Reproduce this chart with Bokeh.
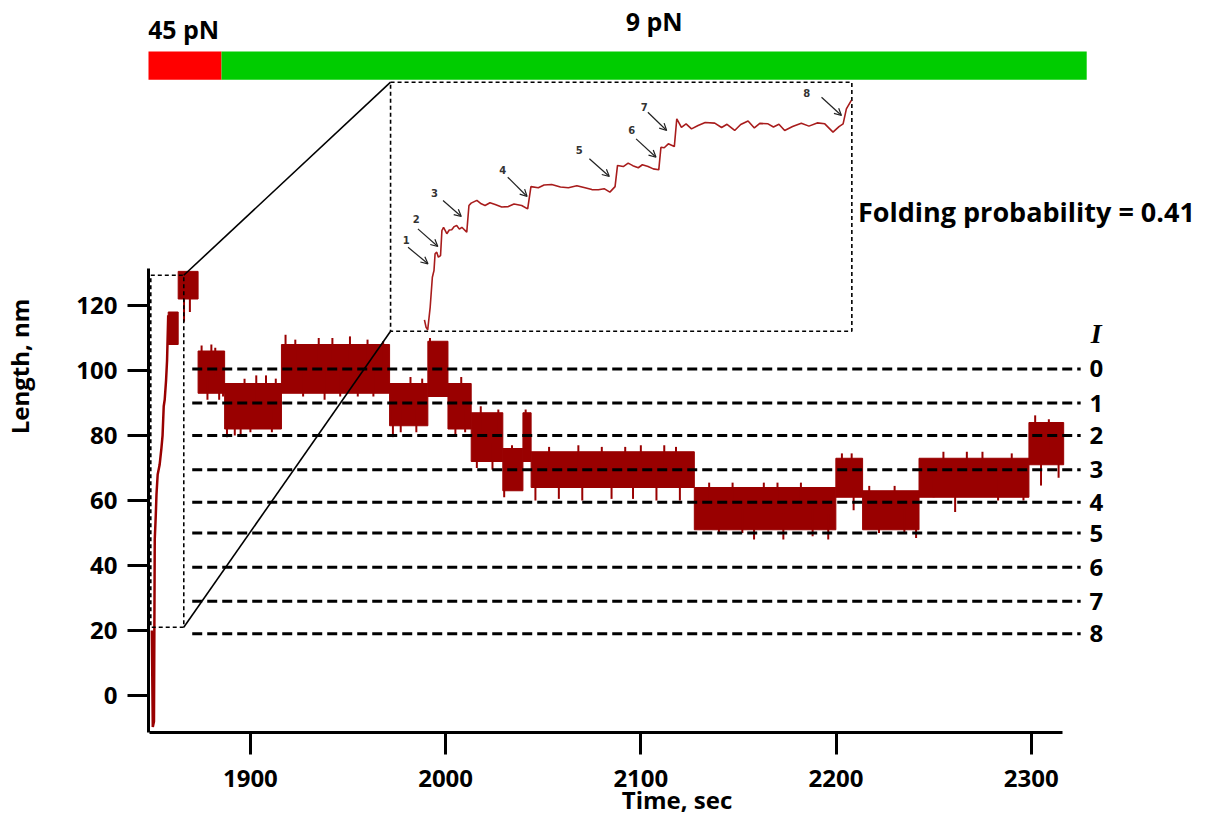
from bokeh.plotting import figure
from bokeh.models import Range1d, Label, Arrow, OpenHead, ColumnDataSource, FixedTicker
from bokeh.embed import file_html
from bokeh.resources import INLINE
from bokeh.core.properties import value

# ---------------- data ----------------
# initial thin rise of the extension trace (time s, length nm)
rise_t = [1849.5, 1850.0, 1850.6, 1851.0, 1851.5, 1851.9, 1852.5, 1853.5, 1854.4, 1855.0,
          1855.6, 1856.1, 1856.8, 1857.3, 1857.9]
rise_v = [20, -9.7, -8, 48, 55, 62, 68, 71, 76, 80, 89, 91, 97, 103, 117]

# noisy dwell segments of the trace: time span and min / max envelope (nm)
seg_start = [1857.9, 1863.0, 1873.2, 1886.8, 1915.9, 1971.3, 1990.9, 2001.2, 2013.1,
             2029.3, 2039.6, 2043.8, 2127.4, 2199.9, 2213.6, 2242.5, 2298.8]
seg_end = [1863.0, 1873.2, 1886.8, 1915.9, 1971.3, 1990.9, 2001.2, 2013.1, 2029.3,
           2039.6, 2043.8, 2127.4, 2199.9, 2213.6, 2242.5, 2298.8, 2316.6]
seg_low = [108, 122, 93, 82, 93, 83, 92, 82, 72, 63, 72, 64, 51, 61, 51, 61, 71]
seg_high = [118, 130.5, 106, 96, 108, 96, 109, 96, 87, 76, 87, 75, 64, 73, 63, 73, 84]

# noise excursions beyond the envelope (time, low, high)
spike_t = [1866, 1869, 1875, 1878, 1880, 1882, 1884, 1886, 1888, 1892, 1895, 1897, 1900, 1903,
           1908, 1911, 1913, 1918, 1923, 1927, 1935, 1938, 1942, 1946, 1951, 1955, 1960, 1963,
           1968, 1973, 1977, 1982, 1985, 1988, 1992, 2005, 2008, 2010, 2016, 2018, 2024, 2027,
           2030, 2034, 2041, 2046, 2053, 2058, 2068, 2070, 2080, 2085, 2092, 2096, 2100, 2108,
           2112, 2118, 2120, 2135, 2140, 2147, 2152, 2158, 2163, 2170, 2173, 2182, 2188, 2196,
           2203, 2208, 2209, 2217, 2222, 2230, 2235, 2241, 2250, 2255, 2261, 2267, 2275, 2283,
           2290, 2296, 2302, 2305, 2309, 2314]
spike_lo = [115, 118, 99, 91, 100, 98, 91, 92, 79.5, 80, 80.5, 90, 81, 90,
            90, 81, 90, 100, 100, 92, 100, 91, 100, 92, 100, 92, 100, 92,
            100, 79.5, 81, 90, 81, 90, 100, 80, 90, 81, 70, 80, 69.5, 80,
            61, 70, 80, 60, 68, 60.5, 70, 60, 68, 60.5, 68, 60.5, 70, 60,
            70, 68, 60, 58, 50, 58, 50, 48, 58, 58, 48, 58, 49, 48,
            68, 68, 57, 58, 50, 58, 50, 48.5, 61, 68, 56.5, 68, 68, 60,
            68, 60, 78, 64.6, 76, 67]
spike_hi = [125, 128, 107.7, 99, 108, 107, 100, 99, 88, 88, 88, 97.5, 90, 98.5,
            98.5, 88, 97.5, 111, 109.5, 100, 110, 100, 110, 100, 110.5, 100, 109.5, 100,
            109, 88, 88, 98, 88, 97.5, 110, 88, 98, 88, 78, 89, 78, 88,
            70, 77, 88, 68, 76.5, 68, 77, 68, 76.5, 68, 76.5, 68, 77, 68,
            77, 76.5, 68, 65.5, 58, 65.5, 58, 56, 65.5, 65.5, 56, 65.5, 58, 56,
            74.5, 74.5, 64, 64.5, 58, 64.5, 58, 56, 68, 75, 64, 75, 75, 68,
            74.5, 68, 86.2, 74, 85, 74]

# intermediate levels I
level_values = [100.5, 90, 80, 69.5, 59.5, 50, 39.5, 29, 19]
level_names = ["0", "1", "2", "3", "4", "5", "6", "7", "8"]
level_t0 = 1870.2
level_t1 = 2325.3

# force protocol
force_start = [1846.3, 1885.2]
force_end = [1885.2, 2328.4]
force_labels = ["45 pN", "9 pN"]
force_colors = ["#ff0000", "#00cc00"]

# zoomed region (small dashed box) and where it is magnified (inset box)
zoom_t = [1848.98, 1865.87]
zoom_v = [21.0, 129.3]
inset_box_t = [1971.80, 2208.09]
inset_box_v = [112.09, 188.71]

# inset trace (time s, length nm) inside the zoomed region
inset_t = [1850.22, 1850.28, 1850.34, 1850.43, 1850.51, 1850.57, 1850.61, 1850.67, 1850.73,
           1850.81, 1850.86, 1850.92, 1851.04, 1851.13, 1851.22, 1851.31, 1851.40, 1851.50,
           1851.59, 1851.77, 1851.85, 1851.93, 1852.14, 1852.30, 1852.44, 1852.62, 1852.81,
           1853.05, 1853.29, 1853.50, 1853.78, 1854.00, 1854.12, 1854.39, 1854.60, 1854.88,
           1855.20, 1855.49, 1855.80, 1856.10, 1856.35, 1856.59, 1856.80, 1857.01, 1857.20,
           1857.29, 1857.50, 1857.68, 1857.85, 1858.05, 1858.20, 1858.41, 1858.60, 1858.80,
           1858.88, 1859.00, 1859.15, 1859.37, 1859.46, 1859.63, 1859.80, 1860.00, 1860.24,
           1860.50, 1860.85, 1861.10, 1861.30, 1861.58, 1861.80, 1862.07, 1862.30, 1862.50,
           1862.80, 1863.00, 1863.20, 1863.41, 1863.70, 1864.02, 1864.30, 1864.60, 1864.88,
           1865.18, 1865.40, 1865.55, 1865.67, 1865.85]
inset_v = [25.96, 22.74, 21.6, 31.4, 44.5, 47.4, 54.7, 55.4, 53.2,
           53.9, 64.8, 66.2, 63.4, 65.0, 65.1, 66.5, 67.0, 65.4,
           66.2, 64.1, 75.7, 76.7, 77.9, 76.4, 75.7, 76.9, 76.1,
           75.0, 75.2, 76.3, 75.7, 74.2, 83.9, 83.4, 84.6, 84.8,
           83.7, 83.4, 84.3, 83.4, 82.6, 82.5, 83.0, 81.5, 83.9,
           93.1, 92.6, 94.1, 93.0, 92.1, 93.4, 92.6, 91.6, 91.2,
           101.0, 100.8, 102.5, 101.3, 113.4, 109.7, 111.2, 109.0, 110.5,
           111.8, 111.5, 109.6, 111.0, 108.3, 110.9, 112.4, 109.4, 111.4,
           111.2, 109.8, 111.0, 108.3, 110.0, 111.5, 110.2, 111.6, 111.2,
           107.6, 110.0, 111.2, 117.7, 121.4]

# step arrows in the inset (inset coordinates)
step_labels = ["1", "2", "3", "4", "5", "6", "7", "8"]
step_label_t = [1849.55, 1849.92, 1850.59, 1853.09, 1855.89, 1857.81, 1858.27, 1864.22]
step_label_v = [60.75, 69.88, 81.02, 91.19, 100.02, 108.59, 118.42, 124.51]
arrow_t0 = [1849.62, 1849.98, 1850.90, 1853.27, 1856.26, 1857.97, 1858.40, 1864.76]
arrow_v0 = [57.53, 65.53, 77.84, 87.97, 95.98, 104.67, 116.24, 122.77]
arrow_t1 = [1850.35, 1850.71, 1851.57, 1853.98, 1856.99, 1858.70, 1859.09, 1865.49]
arrow_v1 = [50.31, 57.84, 70.88, 79.58, 88.28, 96.67, 108.28, 114.81]

x_ticks = [1900, 2000, 2100, 2200, 2300]
y_ticks = [0, 20, 40, 60, 80, 100, 120]
x_axis_bounds = (1848.2, 2316.1)
y_axis_bounds = (-11.4, 131.4)

folding_text = "Folding probability = 0.41"

# ---------------- figure ----------------
TRACE = "#990000"
FONT = "Open Sans"

x0, x1 = 1847.80, 2389.25
y0, y1 = -11.38, 213.85

p = figure(width=1205, height=819, output_backend="svg", toolbar_location=None,
           x_range=Range1d(x0, x1), y_range=Range1d(y0, y1),
           min_border_left=147, min_border_right=0, min_border_top=0, min_border_bottom=87)
p.outline_line_color = None
p.xgrid.grid_line_color = None
p.ygrid.grid_line_color = None
p.background_fill_color = "white"
p.border_fill_color = "white"

# magnification ranges for the inset
sx = (zoom_t[1] - zoom_t[0]) / (inset_box_t[1] - inset_box_t[0])
sy = (zoom_v[1] - zoom_v[0]) / (inset_box_v[1] - inset_box_v[0])
p.extra_x_ranges = {"inset": Range1d(zoom_t[0] + (x0 - inset_box_t[0]) * sx,
                                     zoom_t[0] + (x1 - inset_box_t[0]) * sx)}
p.extra_y_ranges = {"inset": Range1d(zoom_v[0] + (y0 - inset_box_v[0]) * sy,
                                     zoom_v[0] + (y1 - inset_box_v[0]) * sy)}

# main trace
p.quad(left=seg_start, right=seg_end, bottom=seg_low, top=seg_high,
       fill_color=TRACE, line_color=TRACE, line_width=1)
p.segment(x0=spike_t, y0=spike_lo, x1=spike_t, y1=spike_hi, line_color=TRACE, line_width=2)
p.line(rise_t, rise_v, line_color=TRACE, line_width=2.5)

# level lines
p.segment(x0=[level_t0] * len(level_values), x1=[level_t1] * len(level_values),
          y0=level_values, y1=level_values, line_color="black", line_width=3, line_dash="10 5")
p.text(x=[(level_t1 + 8)] * len(level_values), y=level_values, text=level_names,
       text_font=value(FONT), text_font_style="bold", text_font_size="24px",
       text_align="center", text_baseline="middle", text_color="black")
p.add_layout(Label(x=level_t1 + 8, y=level_values[0] + 10.8, text="I",
                   text_font="Liberation Serif", text_font_style="bold italic",
                   text_font_size="28px", text_align="center", text_baseline="middle",
                   text_color="black"))

# force bar
p.quad(left=force_start, right=force_end, bottom=189.5, top=198.15,
       fill_color=force_colors, line_color=None)
for fs, fe, fl, dy in zip(force_start, force_end, force_labels, [7.0, 9.3]):
    p.add_layout(Label(x=(fs + fe) / 2, y=198.15 + dy, text=fl, text_font=FONT,
                       text_font_style="bold", text_font_size="25px", text_color="black",
                       text_align="center", text_baseline="middle"))

# zoom boxes and connectors
p.quad(left=[zoom_t[0], inset_box_t[0]], right=[zoom_t[1], inset_box_t[1]],
       bottom=[zoom_v[0], inset_box_v[0]], top=[zoom_v[1], inset_box_v[1]],
       fill_color=None, line_color="black", line_width=1.6, line_dash="4 3")
p.segment(x0=[zoom_t[1], zoom_t[1]], y0=[zoom_v[1], zoom_v[0]],
          x1=[inset_box_t[0], inset_box_t[0]], y1=[inset_box_v[1], inset_box_v[0]],
          line_color="black", line_width=1.6)

# inset trace + arrows
p.line(inset_t, inset_v, line_color="#a81c1c", line_width=1.6,
       x_range_name="inset", y_range_name="inset")
asrc = ColumnDataSource(dict(x0=arrow_t0, y0=arrow_v0, x1=arrow_t1, y1=arrow_v1))
p.add_layout(Arrow(source=asrc, x_start="x0", y_start="y0", x_end="x1", y_end="y1",
                   line_color="#222222", line_width=1.2,
                   end=OpenHead(size=7, line_width=1.2, line_color="#222222"),
                   x_range_name="inset", y_range_name="inset"))
p.text(x=step_label_t, y=step_label_v, text=step_labels, text_font=value("DejaVu Sans"),
       text_font_style="bold", text_font_size="10px", text_color="#333333",
       text_align="center", text_baseline="middle",
       x_range_name="inset", y_range_name="inset")

p.add_layout(Label(x=2211.2, y=149.0, text=folding_text, text_font=FONT,
                   text_font_style="bold", text_font_size="27px", text_color="black",
                   text_align="left", text_baseline="middle"))

# axes
for ax, ticks, bounds in ((p.xaxis, x_ticks, x_axis_bounds), (p.yaxis, y_ticks, y_axis_bounds)):
    ax.ticker = FixedTicker(ticks=ticks)
    ax.bounds = bounds
    ax.axis_line_width = 3
    ax.major_tick_line_width = 3
    ax.major_tick_in = 0
    ax.minor_tick_line_color = None
    ax.major_label_text_font = FONT
    ax.major_label_text_font_style = "bold"
    ax.major_label_text_font_size = "24px"
    ax.major_label_text_color = "black"
    ax.axis_label_text_font = FONT
    ax.axis_label_text_font_style = "bold"
    ax.axis_label_text_font_size = "24px"
    ax.axis_label_text_color = "black"
p.xaxis.major_tick_out = 22
p.yaxis.major_tick_out = 21
p.xaxis.major_label_standoff = 15
p.yaxis.major_label_standoff = 10
p.xaxis.axis_label = "Time, sec"
p.yaxis.axis_label = "Length, nm"
p.xaxis.axis_label_standoff = -7
p.yaxis.axis_label_standoff = 37

open("out.html", "w").write(file_html(p, INLINE))
